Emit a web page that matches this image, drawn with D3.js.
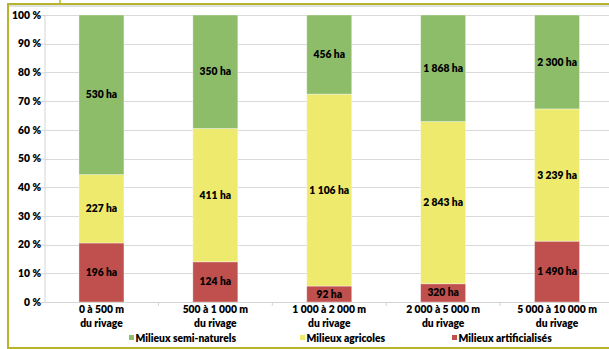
<!DOCTYPE html>
<html>
<head>
<meta charset="utf-8">
<script src="https://cdn.jsdelivr.net/npm/d3@7"></script>
<style>
  html, body { margin: 0; padding: 0; background: #fff; }
  svg { display: block; font-family: "Lato", "Open Sans", sans-serif; font-weight: 800; }
</style>
</head>
<body>
<svg id="chart" width="609" height="349"></svg>
<script>
// Distance bands from the shoreline (two-line labels)
const categories = ["0 à 500 m", "500 à 1 000 m", "1 000 à 2 000 m", "2 000 à 5 000 m", "5 000 à 10 000 m"];
const categorySub = ["du rivage", "du rivage", "du rivage", "du rivage", "du rivage"];

// Surfaces in hectares per land-use type
const artificialises = [196, 124, 92, 320, 1490];
const agricoles = [227, 411, 1106, 2843, 3239];
const semiNaturels = [530, 350, 456, 1868, 2300];

const seriesNames = ["Milieux artificialisés", "Milieux agricoles", "Milieux semi-naturels"];
const seriesColors = ["#c0504d", "#eeea6e", "#8dbd69"];
const legendOrder = ["Milieux semi-naturels", "Milieux agricoles", "Milieux artificialisés"];

const yTicks = [0, 0.1, 0.2, 0.3, 0.4, 0.5, 0.6, 0.7, 0.8, 0.9, 1];

const svg = d3.select("#chart");
const W = 609, H = 349;
const FS = 10.3;

const locale = d3.formatLocale({ thousands: " ", grouping: [3], decimal: ",", currency: ["", " €"] });
const fmt = locale.format(",d");

const rows = categories.map((c, i) => ({
  cat: c,
  "Milieux artificialisés": artificialises[i],
  "Milieux agricoles": agricoles[i],
  "Milieux semi-naturels": semiNaturels[i]
}));

const stack = d3.stack().keys(seriesNames).offset(d3.stackOffsetExpand);
const layers = stack(rows);

const plotLeft = 44.5, plotTop = 15, plotBottom = 302;
const x = d3.scaleBand().domain(categories).range([plotLeft, 614]).paddingInner(0.605).paddingOuter(0.3025);
const y = d3.scaleLinear().domain([0, 1]).range([plotBottom, plotTop]);
const color = d3.scaleOrdinal().domain(seriesNames).range(seriesColors);

// Frame
const frame = svg.append("g");
frame.append("line").attr("x1", 60).attr("x2", 60).attr("y1", 0).attr("y2", 4).attr("stroke", "#b6b42c").attr("stroke-width", 1.5);
frame.append("line").attr("x1", 8).attr("x2", W).attr("y1", 6).attr("y2", 6).attr("stroke", "#c4c4c4").attr("stroke-width", 1);
frame.append("path").attr("d", `M${W},4 H8 V348 H${W}`).attr("fill", "none").attr("stroke", "#b6b42c").attr("stroke-width", 2);

// Gridlines
svg.append("g").selectAll("line").data(yTicks.slice(1)).join("line")
  .attr("x1", plotLeft).attr("x2", W)
  .attr("y1", d => Math.round(y(d)) + 0.5).attr("y2", d => Math.round(y(d)) + 0.5)
  .attr("stroke", "#dadada").attr("stroke-width", 1);

// Y axis
const yAxis = d3.axisLeft(y).tickValues(yTicks).tickSize(4).tickFormat(d => Math.round(d * 100) + " %");
const gy = svg.append("g").attr("transform", `translate(${plotLeft},0)`).call(yAxis);
gy.select(".domain").attr("stroke", "#d4d4d4");
gy.selectAll(".tick line").attr("stroke", "#d4d4d4");
gy.selectAll(".tick text").attr("font-size", FS).attr("font-family", "Lato").attr("font-weight", 800).attr("fill", "#000").attr("x", -3.5);

// Bars
const gBars = svg.append("g");
layers.forEach(layer => {
  gBars.append("g").attr("fill", color(layer.key))
    .selectAll("rect").data(layer).join("rect")
    .attr("x", d => x(d.data.cat))
    .attr("width", x.bandwidth())
    .attr("y", d => y(d[1]))
    .attr("height", d => y(d[0]) - y(d[1]))
    .attr("stroke", "rgba(255,255,255,0.45)").attr("stroke-width", 0.8);
});

// Value labels
layers.forEach(layer => {
  svg.append("g").selectAll("text").data(layer).join("text")
    .attr("x", d => x(d.data.cat) + x.bandwidth() / 2)
    .attr("y", d => (y(d[0]) + y(d[1])) / 2)
    .attr("dy", "0.35em")
    .attr("text-anchor", "middle")
    .attr("font-size", FS).attr("fill", "#000")
    .text(d => fmt(d.data[layer.key]) + " ha");
});

// X axis
svg.append("line").attr("x1", 40).attr("x2", W).attr("y1", plotBottom + 0.5).attr("y2", plotBottom + 0.5).attr("stroke", "#d4d4d4");
const boundaries = categories.slice(1).map(c => x(c) - x.step() * x.paddingInner() / 2);
svg.append("g").selectAll("line").data(boundaries).join("line")
  .attr("x1", d => d).attr("x2", d => d).attr("y1", plotBottom).attr("y2", plotBottom + 4)
  .attr("stroke", "#d4d4d4");

// Category labels
const gLab = svg.append("g").attr("font-size", FS).attr("fill", "#000").attr("text-anchor", "middle");
categories.forEach((c, i) => {
  const cx = x(c) + x.bandwidth() / 2;
  gLab.append("text").attr("x", cx).attr("y", 313).text(c);
  gLab.append("text").attr("x", cx).attr("y", 327).text(categorySub[i]);
});

// Legend
const legendX = [129, 300, 452];
const gLeg = svg.append("g").attr("font-size", FS).attr("fill", "#000");
legendOrder.forEach((name, i) => {
  gLeg.append("rect").attr("x", legendX[i]).attr("y", 335).attr("width", 5).attr("height", 5).attr("fill", color(name));
  gLeg.append("text").attr("x", legendX[i] + 6.5).attr("y", 341.5).text(name);
});
</script>
</body>
</html>
